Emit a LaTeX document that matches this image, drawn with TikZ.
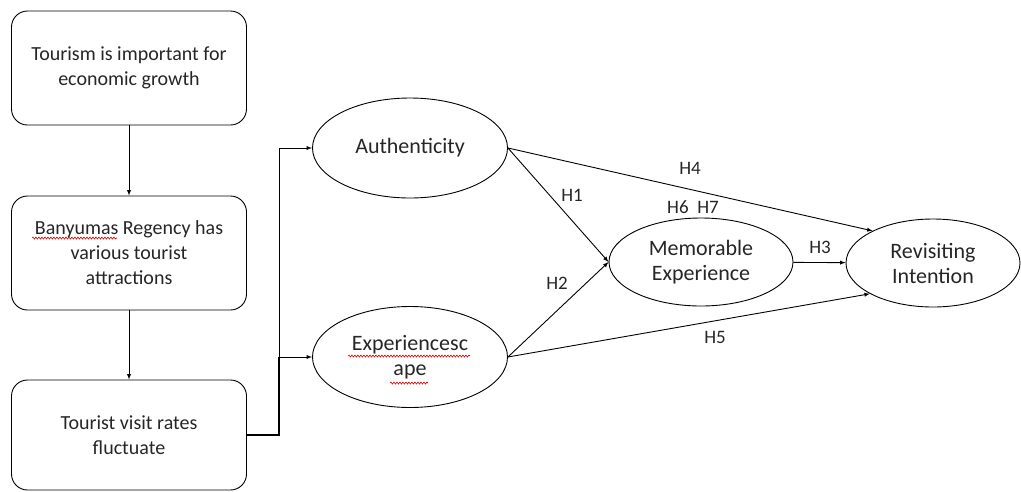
\documentclass[tikz,border=0pt]{standalone}
\usepackage{fontspec}
\setmainfont{Carlito}
\usetikzlibrary{shapes.geometric,decorations.pathmorphing}

\begin{document}
\begin{tikzpicture}[
        x=1pt, y=-1pt,
        stage/.style={rectangle, draw, rounded corners=16pt, minimum width=235pt, minimum height=114pt, align=center, text=black!85, font=\fontsize{20}{25}\selectfont, line width=0.9pt},
        construct/.style={ellipse, draw, inner sep=0pt, align=center, text=black!85, font=\fontsize{22}{25}\selectfont, line width=0.9pt},
        hyp/.style={inner sep=0pt, text=black!85, font=\fontsize{19}{22}\selectfont},
        typo/.style={red!80!black, line width=0.6pt, decorate, decoration={snake, amplitude=1pt, segment length=3pt}},
        every path/.style={line width=0.9pt},
    ]
        \useasboundingbox (0,0) rectangle (1021,491);

        \node[stage] (tourism) at (129,68) {Tourism is important for\\economic growth};
        \node[stage] (regency) at (129,253) {Banyumas Regency has\\various tourist\\attractions};
        \node[stage, minimum height=110pt] (visits) at (129,435) {Tourist visit rates\\fluctuate};

        \node[construct, minimum width=195pt, minimum height=100pt] (auth) at (410,148) {Authenticity};
        \node[construct, minimum width=195pt, minimum height=101pt] (escape) at (410,357) {Experiencesc\\ape};
        \node[construct, minimum width=184pt, minimum height=88pt] (memory) at (701,262) {Memorable\\Experience};
        \node[construct, minimum width=174pt, minimum height=88pt] (revisit) at (933,263) {Revisiting\\Intention};

        \coordinate (split) at (279,357);
        \coordinate (junc) at (279,435);

        \draw[-latex] (tourism) -- (regency);
        \draw[-latex] (regency) -- (visits);
        \draw[line width=1.6pt] (visits.east) -- (junc) -- (split);
        \draw[-latex] (split) -- (escape.west);
        \draw[-latex] (split) |- (auth.west);

        \draw[-latex] (auth.east) -- (memory.west);
        \draw[-latex] (escape.east) -- (memory.west);
        \draw[-latex] (auth.east) -- (revisit.152);
        \draw[-latex] (escape.east) -- (revisit.206);
        \draw[-latex] (memory) -- (revisit);

        \node[hyp] (h1) at (572,195) {H1};
        \node[hyp] (h2) at (557,283) {H2};
        \node[hyp] (h3) at (820,247) {H3};
        \node[hyp] (h4) at (690,168) {H4};
        \node[hyp] (h5) at (715,337) {H5};
        \node[hyp] (h67) at (693,207) {H6~~H7};

        % spell-check marks
        \draw[typo] (32,238) -- (117,238);
        \draw[typo] (348,356) -- (470,356);
        \draw[typo] (390,383) -- (428,383);
    \end{tikzpicture}
\end{document}
